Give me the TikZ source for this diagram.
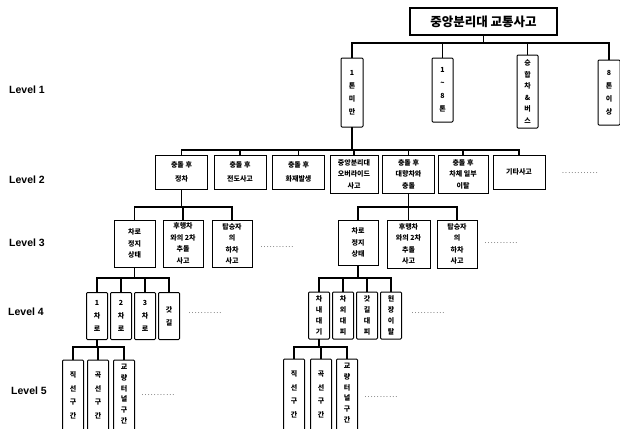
\documentclass[tikz,border=0pt]{standalone}
\usepackage{fontspec}
\setmainfont{Noto Sans CJK KR}
\newfontfamily\levelfont{Liberation Sans}
\usetikzlibrary{positioning}

\begin{document}
\begin{tikzpicture}[
    x=1pt, y=-1pt,
    every node/.style={inner sep=0pt, outer sep=0pt},
    top_node/.style={
        rectangle,
        draw=black,
        line width=1.2pt,
        minimum width=147pt,
        minimum height=27pt,
        font=\bfseries\fontsize{12.5}{14}\selectfont
    },
    flat_node/.style={
        rectangle,
        draw=black,
        line width=1pt,
        align=center,
        font=\bfseries\fontsize{7}{11.5}\selectfont
    },
    tall_node/.style={
        rectangle,
        draw=black,
        rounded corners=1pt,
        line width=1pt,
        align=center,
        font=\bfseries\fontsize{7}{13}\selectfont
    },
    lv2_box/.style={flat_node, minimum width=52pt, minimum height=34pt, font=\bfseries\fontsize{7}{13.5}\selectfont},
    lv2_wide/.style={flat_node, minimum width=52pt, minimum height=38pt},
    lv3_box/.style={flat_node, minimum width=40pt, minimum height=47pt},
    lv4_box/.style={tall_node, minimum width=21pt, minimum height=47pt},
    lv5_box/.style={tall_node, anchor=north, minimum width=21pt, inner ysep=12pt,
        text depth=40pt, font=\bfseries\fontsize{7}{13.5}\selectfont},
    lv5_long/.style={lv5_box, inner ysep=4pt, font=\bfseries\fontsize{7}{10.8}\selectfont},
    level_label/.style={font=\levelfont\bfseries\fontsize{10.5}{12}\selectfont},
    link/.style={line width=1.1pt, draw=black},
    more_dots/.style={font=\fontsize{7}{8}\selectfont}
]
    \useasboundingbox (0, 0) rectangle (620, 428);
    \clip (0, 0) rectangle (620, 428);

    % Bus heights
    \coordinate (bus1) at (0, 43);
    \coordinate (bus2) at (0, 150);
    \coordinate (bus3) at (0, 207);
    \coordinate (bus4) at (0, 278);
    \coordinate (bus5) at (0, 347);

    % Level labels
    \node[level_label] (lvA) at (27, 90) {Level 1};
    \node[level_label] (lvB) at (27, 180) {Level 2};
    \node[level_label] (lvC) at (27, 243) {Level 3};
    \node[level_label] (lvD) at (26, 312) {Level 4};
    \node[level_label] (lvE) at (29, 391) {Level 5};

    % Root
    \node[top_node] (root) at (483.5, 21.5) {중앙분리대 교통사고};

    % Level 1
    \node[tall_node, minimum width=22pt, minimum height=69pt] (l1a) at (352, 92.5) {1\\톤\\미\\만};
    \node[tall_node, minimum width=21pt, minimum height=64pt] (l1b) at (442.5, 90) {1\\\textasciitilde\\8\\톤};
    \node[tall_node, minimum width=21pt, minimum height=73pt, font=\bfseries\fontsize{7}{11.5}\selectfont] (l1c) at (527.5, 91.5) {승\\합\\차\\\&\\버\\스};
    \node[tall_node, minimum width=22pt, minimum height=65pt] (l1d) at (609, 92.5) {8\\톤\\이\\상};

    % Level 2
    \node[lv2_box] (l2a) at (181.5, 172) {충돌 후\\정차};
    \node[lv2_box] (l2b) at (240, 172) {충돌 후\\전도사고};
    \node[lv2_box] (l2c) at (298.5, 172) {충돌 후\\화재발생};
    \node[lv2_wide, minimum width=48pt] (l2d) at (354, 174) {중앙분리대\\오버라이드\\사고};
    \node[lv2_wide] (l2e) at (408.5, 174) {충돌 후\\대향차와\\충돌};
    \node[lv2_wide, minimum width=50pt] (l2f) at (463, 174) {충돌 후\\차체 일부\\이탈};
    \node[lv2_box] (l2g) at (519, 172) {기타사고};
    \node[more_dots] (d2) at (580, 173) {\makebox[38pt]{\dotfill}};

    % Level 3
    \node[lv3_box, minimum width=41pt] (l3a) at (134.5, 243.5) {차로\\정지\\상태};
    \node[lv3_box] (l3b) at (183, 243.5) {후행차\\와의 2차\\추돌\\사고};
    \node[lv3_box] (l3c) at (232, 244) {탑승자\\의\\하차\\사고};
    \node[more_dots] (d3a) at (277, 247) {\makebox[34pt]{\dotfill}};

    \node[lv3_box, minimum height=45pt] (r3a) at (358, 242.5) {차로\\정지\\상태};
    \node[lv3_box, minimum width=43pt, minimum height=48pt] (r3b) at (408.5, 244) {후행차\\와의 2차\\추돌\\사고};
    \node[lv3_box, minimum height=48pt] (r3c) at (457, 244) {탑승자\\의\\하차\\사고};
    \node[more_dots] (d3b) at (501, 243) {\makebox[36pt]{\dotfill}};

    % Level 4
    \node[lv4_box] (l4a) at (97, 316) {1\\차\\로};
    \node[lv4_box] (l4b) at (121, 316) {2\\차\\로};
    \node[lv4_box] (l4c) at (145, 316) {3\\차\\로};
    \node[lv4_box] (l4d) at (169, 316) {갓\\길};
    \node[more_dots] (d4a) at (205, 313) {\makebox[34pt]{\dotfill}};

    \node[lv4_box, font=\bfseries\fontsize{7}{11}\selectfont] (r4a) at (319, 315.5) {차\\내\\대\\기};
    \node[lv4_box, font=\bfseries\fontsize{7}{11}\selectfont] (r4b) at (343, 315.5) {차\\외\\대\\피};
    \node[lv4_box, font=\bfseries\fontsize{7}{11}\selectfont] (r4c) at (367, 315.5) {갓\\길\\대\\피};
    \node[lv4_box, font=\bfseries\fontsize{7}{11}\selectfont] (r4d) at (391, 315.5) {현\\장\\이\\탈};
    \node[more_dots] (d4b) at (428, 313) {\makebox[36pt]{\dotfill}};

    % Level 5
    \node[lv5_box] (l5a) at (73, 360) {직\\선\\구\\간};
    \node[lv5_box] (l5b) at (98, 360) {곡\\선\\구\\간};
    \node[lv5_long] (l5c) at (124, 360) {교\\량\\터\\널\\구\\간};
    \node[more_dots] (d5a) at (158, 395) {\makebox[36pt]{\dotfill}};

    \node[lv5_box] (r5a) at (294, 359) {직\\선\\구\\간};
    \node[lv5_box] (r5b) at (321, 359) {곡\\선\\구\\간};
    \node[lv5_long] (r5c) at (347, 359) {교\\량\\터\\널\\구\\간};
    \node[more_dots] (d5b) at (381, 397) {\makebox[36pt]{\dotfill}};

    % Links
    \foreach \c in {l1a, l1b, l1c, l1d}
        \draw[link] (root.south) -- (root.south |- bus1) -| (\c.north);
    \foreach \c in {l2a, l2b, l2c, l2d, l2e, l2f, l2g}
        \draw[link] (l1a.south) -- (l1a.south |- bus2) -| (\c.north);
    \foreach \c in {l3a, l3b, l3c}
        \draw[link] (l2a.south) -- (l2a.south |- bus3) -| (\c.north);
    \foreach \c in {r3a, r3b, r3c}
        \draw[link] (l2e.south) -- (l2e.south |- bus3) -| (\c.north);
    \foreach \c in {l4a, l4b, l4c, l4d}
        \draw[link] (l3a.south) -- (l3a.south |- bus4) -| (\c.north);
    \foreach \c in {r4a, r4b, r4c, r4d}
        \draw[link] (r3a.south) -- (r3a.south |- bus4) -| (\c.north);
    \foreach \c in {l5a, l5b, l5c}
        \draw[link] (l4a.south) -- (l4a.south |- bus5) -| (\c.north);
    \foreach \c in {r5a, r5b, r5c}
        \draw[link] (r4a.south) -- (r4a.south |- bus5) -| (\c.north);
\end{tikzpicture}
\end{document}
